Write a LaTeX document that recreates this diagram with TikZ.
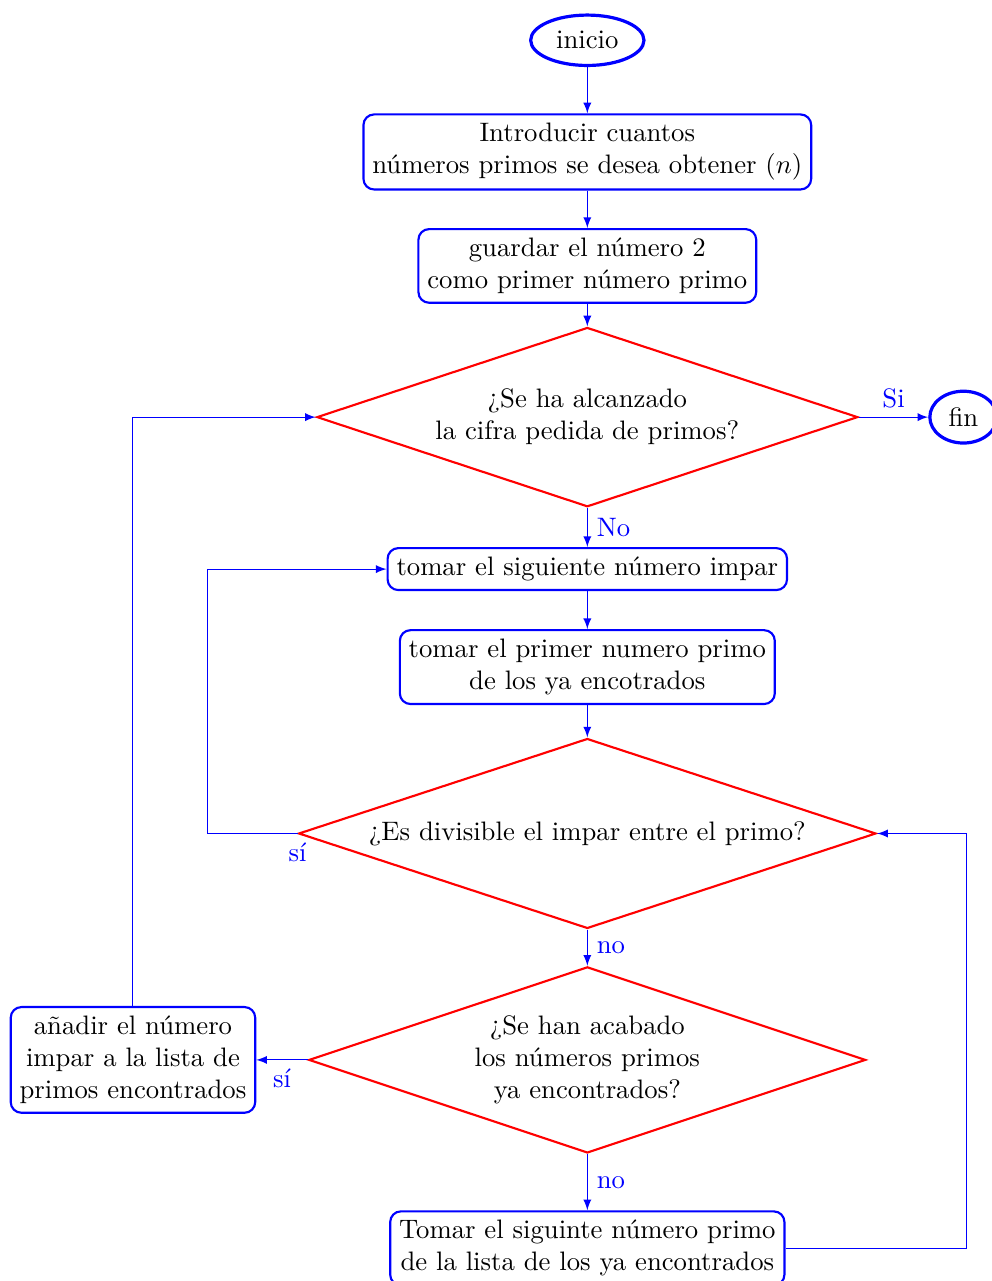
\documentclass[tikz,border=0pt]{standalone}
\usepackage{xcolor}
\usepackage{tikz}
\usetikzlibrary{shapes.geometric}

\begin{document}
\begin{tikzpicture}[
  terminal/.style={ellipse, draw=blue, very thick},
  proceso/.style={rectangle, rounded corners, draw=blue, thick, align=center},
  decision/.style={diamond, draw=red, thick, align=center, aspect=3, inner sep=0pt},
  flecha/.style={->, >=latex, blue},
  etiqueta/.style={text=blue}
]
\useasboundingbox (0,0) rectangle (13.05,-16.86);

% Inicio y datos de entrada
\node[terminal] (inicio) at (7.73,-0.53) {inicio};
\node[proceso] (intro) at (7.73,-2.00) {Introducir cuantos\\n\'umeros primos se desea obtener ($n$)};
\node[proceso] (guardar) at (7.73,-3.50) {guardar el n\'umero 2\\como primer n\'umero primo};

% Bucle principal
\node[decision, minimum width=7.12cm, minimum height=2.36cm] (alcanzado) at (7.73,-5.49)
  {¿Se ha alcanzado\\la cifra pedida de primos?};
\node[terminal] (fin) at (12.68,-5.49) {fin};
\node[proceso] (impar) at (7.73,-7.49) {tomar el siguiente n\'umero impar};
\node[proceso] (primero) at (7.73,-8.78) {tomar el primer numero primo\\de los ya encotrados};

% Prueba de divisibilidad
\node[decision, minimum width=7.60cm, minimum height=2.50cm] (divisible) at (7.73,-10.97)
  {¿Es divisible el impar entre el primo?};
\node[decision, minimum width=7.33cm, minimum height=2.45cm] (acabado) at (7.73,-13.95)
  {¿Se han acabado\\los n\'umeros primos\\ya encontrados?};
\node[proceso] (anadir) at (1.75,-13.95) {a\~nadir el n\'umero\\impar a la lista de\\primos encontrados};
\node[proceso] (siguiente) at (7.73,-16.43) {Tomar el siguinte n\'umero primo\\de la lista de los ya encontrados};

% Conexiones
\draw[flecha] (inicio) -- (intro);
\draw[flecha] (intro) -- (guardar);
\draw[flecha] (guardar) -- (alcanzado);
\draw[flecha] (alcanzado) -- node[above, etiqueta] {Si} (fin);
\draw[flecha] (alcanzado) -- node[right, etiqueta] {No} (impar);
\draw[flecha] (impar) -- (primero);
\draw[flecha] (primero) -- (divisible);
\draw[flecha] (divisible.west) -- node[pos=0, below, etiqueta] {s\'i} ++(-1.19,0) |- (impar.west);
\draw[flecha] (divisible) -- node[right, etiqueta] {no} (acabado);
\draw[flecha] (acabado) -- node[below, etiqueta] {s\'i} (anadir);
\draw[flecha] (anadir.north) |- (alcanzado.west);
\draw[flecha] (acabado) -- node[right, etiqueta] {no} (siguiente);
\draw[flecha] (siguiente.east) -- ++(2.38,0) |- (divisible.east);
\end{tikzpicture}
\end{document}
